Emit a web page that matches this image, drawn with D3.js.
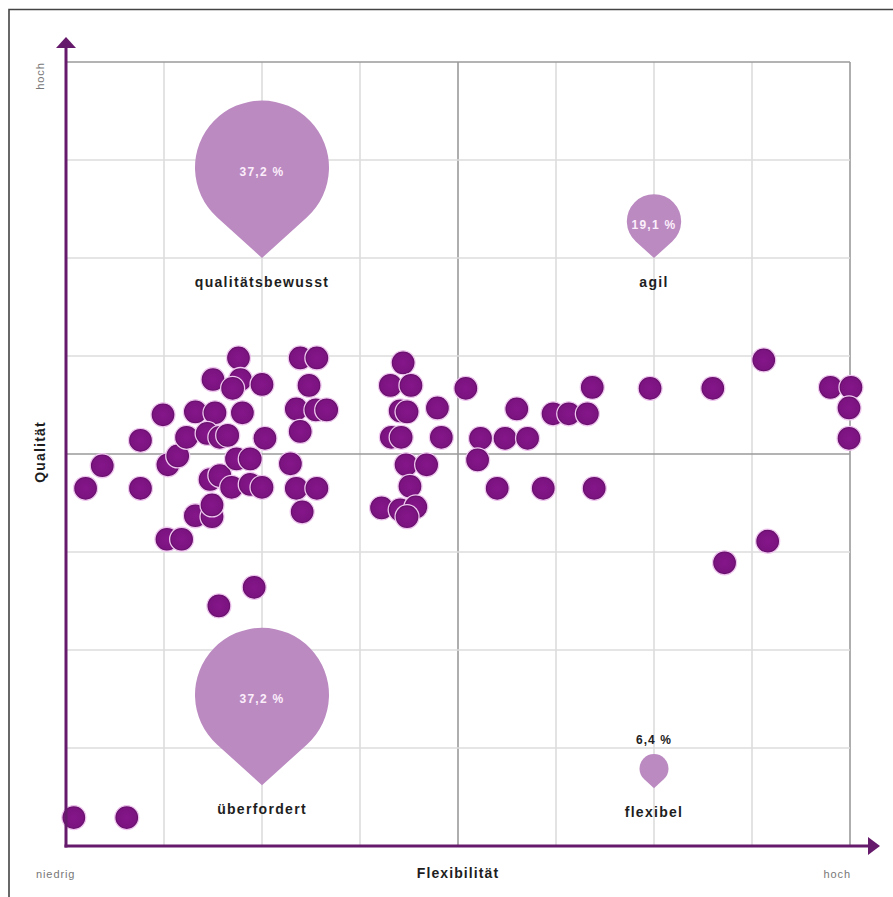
<!DOCTYPE html>
<html>
<head>
<meta charset="utf-8">
<script src="https://cdn.jsdelivr.net/npm/d3@7"></script>
<style>
  html, body { margin: 0; padding: 0; background: #fff; }
  svg { display: block; font-family: "Liberation Sans", Arial, Helvetica, sans-serif; }
</style>
</head>
<body>
<svg id="chart" width="893" height="897"></svg>
<script>
// ---- data ----
const gridTicks = [0, 1, 2, 3, 4, 5, 6, 7, 8];
const xAxisTitle = "Flexibilität";
const yAxisTitle = "Qualität";
const lowLabel = "niedrig";
const highLabel = "hoch";

const segmentNames  = ["qualitätsbewusst", "agil", "überfordert", "flexibel"];
const segmentShares = [37.2, 19.1, 37.2, 6.4];
const segmentFlex   = [2, 6, 2, 6];
const segmentQual   = [6, 6, 0.62, 0.59];

const pointsX = [0.08, 0.62, 1.56, 1.92, 0.20, 0.37, 0.76, 0.76, 0.99, 1.03,
  1.18, 1.32, 1.49, 1.49, 1.04, 1.14, 1.23, 1.32, 1.52, 1.44,
  1.57, 1.65, 1.50, 1.76, 1.78, 1.70, 2.00, 1.80, 2.03, 1.47,
  1.57, 1.69, 1.74, 1.88, 1.88, 2.00, 2.29, 2.39, 2.56, 2.48,
  2.35, 2.55, 2.66, 2.39, 2.35, 2.56, 2.41, 3.44, 3.31, 3.52,
  3.41, 3.48, 3.79, 3.32, 3.42, 3.83, 3.47, 3.68, 3.51, 3.22,
  3.41, 3.57, 3.48, 4.08, 4.23, 4.48, 4.71, 4.20, 4.40, 4.87,
  5.39, 4.60, 4.97, 5.13, 5.32, 5.37, 5.96, 6.60, 7.12, 7.80,
  8.01, 7.99, 7.99, 7.16, 6.72];
const pointsY = [0.29, 0.29, 2.45, 2.64, 3.65, 3.88, 3.65, 4.14, 4.40, 3.13,
  3.13, 3.37, 3.36, 3.48, 3.89, 3.98, 4.17, 4.43, 4.42, 4.21,
  4.17, 4.19, 4.76, 4.98, 4.76, 4.67, 4.71, 4.42, 4.16, 3.74,
  3.78, 3.66, 3.95, 3.95, 3.69, 3.66, 3.90, 4.98, 4.98, 4.70,
  4.46, 4.45, 4.45, 4.23, 3.65, 3.65, 3.41, 4.93, 4.70, 4.70,
  4.44, 4.43, 4.47, 4.17, 4.17, 4.17, 3.89, 3.89, 3.67, 3.45,
  3.43, 3.46, 3.36, 4.67, 4.16, 4.16, 4.16, 3.94, 3.65, 3.65,
  3.65, 4.46, 4.41, 4.41, 4.41, 4.68, 4.67, 4.67, 4.96, 4.68,
  4.68, 4.47, 4.16, 3.11, 2.89];

// ---- layout ----
const svg = d3.select("#chart");
const x = d3.scaleLinear().domain([0, 8]).range([66, 850]);
const y = d3.scaleLinear().domain([0, 8]).range([846, 62]);
const rScale = d3.scalePow().exponent(2).domain([6.4, 37.2]).range([14.5, 67]);
const fmt = v => v.toFixed(1).replace(".", ",") + " %";

// outer frame (top & left)
svg.append("path")
  .attr("d", "M9,897 L9,9.5 L893,9.5")
  .attr("fill", "none").attr("stroke", "#444").attr("stroke-width", 1.6);

const defs = svg.append("defs");
const grad = defs.append("radialGradient").attr("id", "dotGrad");
grad.append("stop").attr("offset", "0%").attr("stop-color", "#85168a");
grad.append("stop").attr("offset", "80%").attr("stop-color", "#7b1380");
grad.append("stop").attr("offset", "100%").attr("stop-color", "#570b5b");

// grid
const grid = svg.append("g");
const isStrong = t => t === 4 || t === 8;
grid.selectAll("line.v").data(gridTicks.filter(t => t > 0)).join("line")
  .attr("x1", d => x(d)).attr("x2", d => x(d))
  .attr("y1", y(0)).attr("y2", y(8))
  .attr("stroke", d => isStrong(d) ? "#9a9a9a" : "#dcdcdc")
  .attr("stroke-width", 1.6);
grid.selectAll("line.h").data(gridTicks.filter(t => t > 0)).join("line")
  .attr("y1", d => y(d)).attr("y2", d => y(d))
  .attr("x1", x(0)).attr("x2", x(8))
  .attr("stroke", d => isStrong(d) ? "#9a9a9a" : "#dcdcdc")
  .attr("stroke-width", 1.6);

// segment drops
const drops = svg.append("g");
segmentNames.forEach((name, i) => {
  const r = rScale(segmentShares[i]);
  const tx = x(segmentFlex[i]), ty = y(segmentQual[i]);
  const dist = r * 1.35;
  const cx = tx, cy = ty - dist;
  const phi = Math.acos(r / dist);
  const px = r * Math.sin(phi), py = r * Math.cos(phi);
  const path = `M${tx},${ty} L${cx + px},${cy + py} A${r},${r} 0 1 0 ${cx - px},${cy + py} Z`;
  drops.append("path").attr("d", path).attr("fill", "#bb8ac1");
  if (r > 20) {
    drops.append("text").attr("x", cx).attr("y", cy + 8)
      .attr("text-anchor", "middle").attr("fill", "#fbeefb")
      .attr("font-size", 12).attr("font-weight", "bold").attr("letter-spacing", 1.3)
      .text(fmt(segmentShares[i]));
  } else {
    drops.append("text").attr("x", cx).attr("y", cy - r - 10)
      .attr("text-anchor", "middle").attr("fill", "#222")
      .attr("font-size", 12).attr("font-weight", "bold").attr("letter-spacing", 1.1)
      .text(fmt(segmentShares[i]));
  }
  drops.append("text").attr("x", tx).attr("y", ty + 29)
    .attr("text-anchor", "middle").attr("fill", "#1e1e1e")
    .attr("font-size", 14).attr("font-weight", "bold").attr("letter-spacing", 1.3)
    .text(name);
});

// dots
svg.append("g").selectAll("circle").data(pointsX.map((v, i) => [v, pointsY[i]])).join("circle")
  .attr("cx", d => x(d[0])).attr("cy", d => y(d[1])).attr("r", 12)
  .attr("fill", "url(#dotGrad)")
  .attr("stroke", "#efc6ef").attr("stroke-width", 1.3);

// axes with arrows
const axisColor = "#661a6b";
svg.append("line").attr("x1", x(0)).attr("x2", x(0)).attr("y1", y(0) + 1.5).attr("y2", 46)
  .attr("stroke", axisColor).attr("stroke-width", 3);
svg.append("path").attr("d", `M${x(0)},37 L${x(0) + 10},48 L${x(0) - 10},48 Z`).attr("fill", axisColor);
svg.append("line").attr("x1", x(0) - 1.5).attr("x2", 870).attr("y1", y(0)).attr("y2", y(0))
  .attr("stroke", axisColor).attr("stroke-width", 3);
svg.append("path").attr("d", `M880,${y(0)} L868,${y(0) - 9} L868,${y(0) + 9} Z`).attr("fill", axisColor);

// axis labels
svg.append("text").attr("x", 458).attr("y", 878).attr("text-anchor", "middle")
  .attr("font-size", 14).attr("font-weight", "bold").attr("letter-spacing", 1.1).attr("fill", "#1e1e1e")
  .text(xAxisTitle);
svg.append("text").attr("x", 36).attr("y", 878).attr("font-size", 11).attr("letter-spacing", 0.9)
  .attr("fill", "#777").text(lowLabel);
svg.append("text").attr("x", 851).attr("y", 878).attr("text-anchor", "end").attr("font-size", 11)
  .attr("letter-spacing", 0.9).attr("fill", "#777").text(highLabel);
svg.append("text").attr("transform", "translate(45,452) rotate(-90)").attr("text-anchor", "middle")
  .attr("font-size", 14).attr("font-weight", "bold").attr("letter-spacing", 1.2).attr("fill", "#1e1e1e")
  .text(yAxisTitle);
svg.append("text").attr("transform", "translate(44,76) rotate(-90)").attr("text-anchor", "middle")
  .attr("font-size", 11).attr("letter-spacing", 0.9).attr("fill", "#777")
  .text(highLabel);
</script>
</body>
</html>
